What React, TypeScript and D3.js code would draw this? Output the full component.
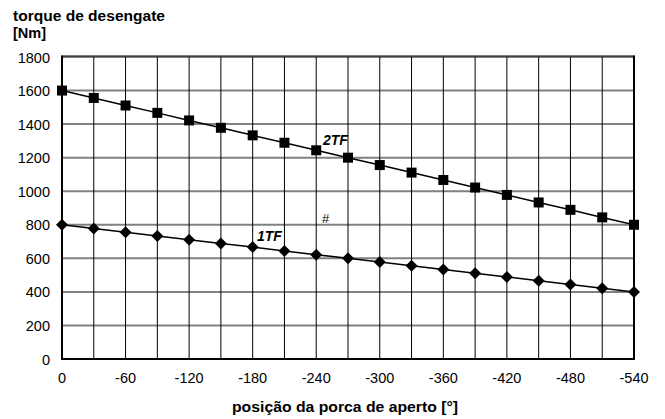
import * as d3 from 'd3';

const positions = [0, -30, -60, -90, -120, -150, -180, -210, -240, -270, -300, -330, -360, -390, -420, -450, -480, -510, -540];
const torque2TF = [1600, 1556, 1511, 1467, 1422, 1378, 1333, 1289, 1244, 1200, 1156, 1111, 1067, 1022, 978, 933, 889, 844, 800];
const torque1TF = [800, 778, 756, 733, 711, 689, 667, 644, 622, 600, 578, 556, 533, 511, 489, 467, 444, 422, 400];
const xTicks = [0, -60, -120, -180, -240, -300, -360, -420, -480, -540];
const yTicks = [0, 200, 400, 600, 800, 1000, 1200, 1400, 1600, 1800];

const W = 665;
const H = 419;
const margin = { left: 62, right: 31, top: 57, bottom: 60 };
const font = '"Liberation Sans", Arial, sans-serif';

export default function App() {
  const x = d3.scaleLinear().domain([0, -540]).range([margin.left, W - margin.right]);
  const y = d3.scaleLinear().domain([0, 1800]).range([H - margin.bottom, margin.top]);
  const line = d3
    .line<number>()
    .x((_, i) => x(positions[i]))
    .y((d) => y(d));

  // square and a wide diamond, both ~10px
  const sq = 'M-5,-5L5,-5L5,5L-5,5Z';
  const dia = 'M0,-6L6,0L0,6L-6,0Z';

  return (
    <svg width={W} height={H} style={{ position: 'absolute', left: 0, top: 0, fontFamily: font }}>
      <rect width={W} height={H} fill="#fff" />
      {yTicks.map((t) => (
        <line key={'h' + t} x1={x(0)} x2={x(-540)} y1={y(t)} y2={y(t)} stroke="#808080" strokeWidth={2} />
      ))}
      {positions.map((p) => (
        <line key={'v' + p} x1={x(p)} x2={x(p)} y1={y(0)} y2={y(1800)} stroke="#000" strokeWidth={1} />
      ))}
      <line x1={x(0)} x2={x(-540)} y1={y(1800) - 1} y2={y(1800) - 1} stroke="#000" strokeWidth={1} />
      <line x1={x(0)} x2={x(0)} y1={y(0)} y2={y(1800) - 1.5} stroke="#000" strokeWidth={2} />
      <line x1={x(-540)} x2={x(-540)} y1={y(0)} y2={y(1800) - 1.5} stroke="#000" strokeWidth={2} />
      <line x1={x(0) - 1} x2={x(-540) + 1} y1={y(0)} y2={y(0)} stroke="#000" strokeWidth={2} />

      {yTicks.map((t) => (
        <text key={'yl' + t} x={x(0) - 12} y={y(t) + 5.5} textAnchor="end" fontSize={14.5}>
          {t}
        </text>
      ))}
      {xTicks.map((t) => (
        <text key={'xl' + t} x={x(t)} y={y(0) + 24} textAnchor="middle" fontSize={14.5}>
          {t}
        </text>
      ))}

      <path d={line(torque2TF) || ''} fill="none" stroke="#000" strokeWidth={1.5} />
      <path d={line(torque1TF) || ''} fill="none" stroke="#000" strokeWidth={1.5} />
      {torque2TF.map((v, i) => (
        <path key={'s' + i} d={sq} transform={`translate(${x(positions[i])},${y(v)})`} fill="#000" />
      ))}
      {torque1TF.map((v, i) => (
        <path key={'d' + i} d={dia} transform={`translate(${x(positions[i])},${y(v)})`} fill="#000" />
      ))}

      <text x={323} y={145} fontSize={14} fontWeight="bold" fontStyle="italic">2TF</text>
      <text x={257} y={241} fontSize={14} fontWeight="bold" fontStyle="italic">1TF</text>
      <text x={322} y={223} fontSize={13}>#</text>

      <text x={13} y={20.5} fontSize={14.5} fontWeight="bold" textLength={152} lengthAdjust="spacingAndGlyphs">
        torque de desengate
      </text>
      <text x={13} y={37.5} fontSize={14.5} fontWeight="bold">[Nm]</text>
      <text x={232} y={412} fontSize={15.5} fontWeight="bold" textLength={226} lengthAdjust="spacingAndGlyphs">
        posição da porca de aperto [°]
      </text>
    </svg>
  );
}
